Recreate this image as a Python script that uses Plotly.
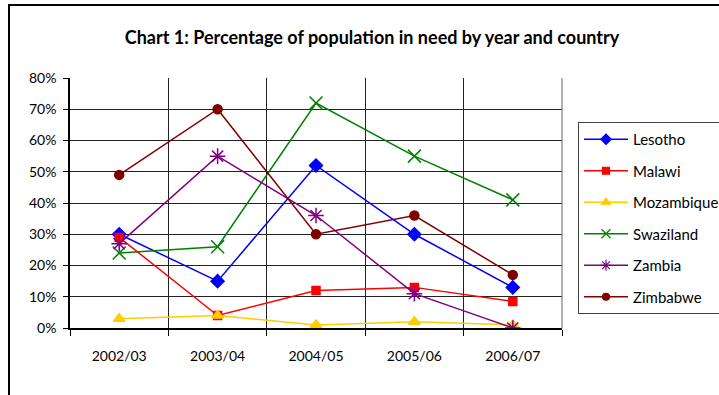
import plotly.graph_objects as go

years = ["2002/03", "2003/04", "2004/05", "2005/06", "2006/07"]
lesotho = [0.30, 0.15, 0.52, 0.30, 0.13]
malawi = [0.29, 0.04, 0.12, 0.13, 0.085]
mozambique = [0.03, 0.04, 0.01, 0.02, 0.01]
swaziland = [0.24, 0.26, 0.72, 0.55, 0.41]
zambia = [0.27, 0.55, 0.36, 0.11, 0.0]
zimbabwe = [0.49, 0.70, 0.30, 0.36, 0.17]

# name, values, colour, marker symbol, plot marker size, legend marker size
series = [
    ("Lesotho", lesotho, "#0000FF", "diamond", 10, 8),
    ("Malawi", malawi, "#FF0000", "square", 8, 7),
    ("Mozambique", mozambique, "#FFCC00", "triangle-up", 10, 8),
    ("Swaziland", swaziland, "#008000", "x-thin", 13, 9),
    ("Zambia", zambia, "#800080", "asterisk", 13, 9),
    ("Zimbabwe", zimbabwe, "#800000", "circle", 9, 7),
]

fig = go.Figure()
for name, vals, color, sym, size, _ in series:
    fig.add_trace(go.Scatter(
        x=years, y=vals, name=name, mode="lines+markers",
        showlegend=False,
        line=dict(color=color, width=1.5),
        marker=dict(symbol=sym, size=size, color=color,
                    line=dict(color=color, width=1.5)),
    ))

# legend entries with smaller marker glyphs
for name, vals, color, sym, _, lsize in series:
    fig.add_trace(go.Scatter(
        x=[None], y=[None], name=name, mode="lines+markers",
        legendgroup=name, showlegend=True,
        line=dict(color=color, width=1.5),
        marker=dict(symbol=sym, size=lsize, color=color,
                    line=dict(color=color, width=1.2)),
    ))

font_family = "Lato, 'DejaVu Sans', sans-serif"

fig.update_layout(
    width=719, height=395,
    margin=dict(l=70, r=157, t=78, b=67, autoexpand=False),
    paper_bgcolor="white", plot_bgcolor="white",
    font=dict(family=font_family, size=12, color="black"),
    title=dict(text="<b>Chart 1: Percentage of population in need by year and country</b>",
               x=372 / 719, xanchor="center", xref="container",
               y=1 - 38 / 395, yanchor="middle", yref="container",
               font=dict(size=18, family=font_family)),
    showlegend=True,
    legend=dict(
        x=(578 - 70) / 492, xanchor="left",
        y=1 - (122 - 78) / 250, yanchor="top",
        bordercolor="#444", borderwidth=1, bgcolor="white",
        font=dict(size=15), itemwidth=44, tracegroupgap=9,
    ),
    xaxis=dict(
        type="category", range=[-0.5, 4.5],
        tickson="boundaries", ticks="outside", ticklen=6, tickcolor="black",
        showgrid=True, gridcolor="#222", gridwidth=1,
        showline=True, linecolor="black", linewidth=1.5, mirror=False,
        tickfont=dict(size=14), zeroline=False, ticklabelstandoff=14,
    ),
    yaxis=dict(
        range=[0, 0.8], dtick=0.1, tickformat=".0%",
        ticks="outside", ticklen=5, tickcolor="black",
        showgrid=True, gridcolor="#222", gridwidth=1,
        showline=True, linecolor="black", linewidth=1.5,
        tickfont=dict(size=14), zeroline=False, ticklabelstandoff=4,
    ),
)

# right edge of the plotting area
fig.add_shape(type="line", xref="paper", yref="paper", x0=1, x1=1, y0=0, y1=1,
              line=dict(color="#666", width=1))

# outer chart frame
fig.add_shape(type="rect", xref="paper", yref="paper",
              x0=(9 - 70) / 492, x1=2, y0=-1, y1=1 + (78 - 5) / 250,
              line=dict(color="black", width=2), layer="below")

fig.write_html("out.html")
